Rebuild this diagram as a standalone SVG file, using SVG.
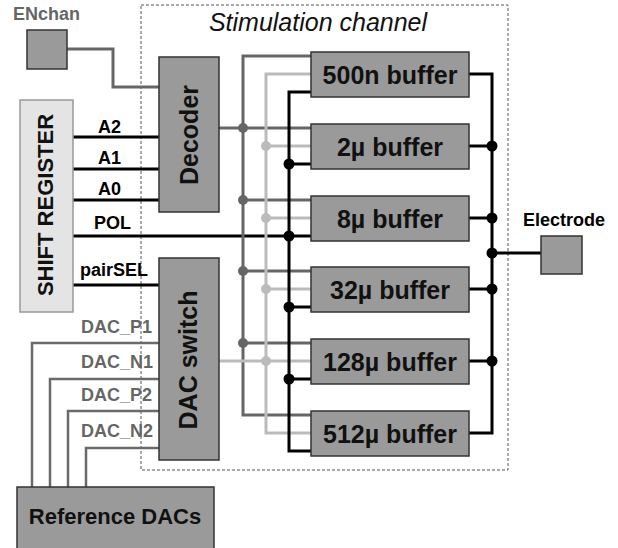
<svg xmlns="http://www.w3.org/2000/svg" width="618" height="548" viewBox="0 0 618 548">
<style>
text{font-family:"Liberation Sans",Arial,Helvetica,sans-serif;font-weight:bold}
.box{fill:#9a9a9a;stroke:#333;stroke-width:1.5}
.sr{fill:#e4e4e4;stroke:#999;stroke-width:1.5}
.dk{fill:none;stroke:#666;stroke-width:3}
.lt{fill:none;stroke:#bbb;stroke-width:3}
.bk{fill:none;stroke:#000;stroke-width:3}
.dac{fill:none;stroke:#6a6a6a;stroke-width:2.5}
.ddot{fill:#666}
.ldot{fill:#bbb}
.bdot{fill:#000}
.big{font-size:25px;fill:#111}
.lbl{font-size:18px;fill:#000}
.glbl{font-size:18px;fill:#666}
</style>
<rect id="channel-frame" x="141" y="5" width="367" height="465" fill="none" stroke="#555" stroke-width="1" stroke-dasharray="3 2"/>
<text x="318" y="31" text-anchor="middle" style="font-weight:normal;font-style:italic;font-size:25px;fill:#111">Stimulation channel</text>
<g id="connectors">
<path class="dk" d="M67,49 H113 V87 H159"/>
<path class="bk" d="M73,137 H159 M73,169 H159 M73,200 H159 M73,285 H159 M73,236 H311"/>
<path class="dk" d="M219,128 H311"/>
<path class="dk" d="M311,56 H243 V415 H311 M243,200 H311 M243,271 H311 M243,343 H311"/>
<path class="lt" d="M311,74 H266 V433 H311 M266,146 H311 M266,218 H311 M266,289 H311"/>
<path class="lt" stroke-width="2.5" d="M219,361 H311"/>
<path class="bk" d="M311,92 H289 V451 H311 M289,164 H311 M289,307 H311 M289,379 H311"/>
<path class="bk" d="M469,74 H492 V433 H469 M469,146 H492 M469,218 H492 M469,289 H492 M469,361 H492 M492,253 H541"/>
<path class="dac" d="M159,343 H32 V487 M159,379 H50 V487 M159,411 H68 V487 M159,448 H86 V487"/>
<circle class="ddot" cx="243" cy="128" r="5"/>
<circle class="ddot" cx="243" cy="200" r="5"/>
<circle class="ddot" cx="243" cy="271" r="5"/>
<circle class="ddot" cx="243" cy="343" r="5"/>
<circle class="ldot" cx="266" cy="146" r="5"/>
<circle class="ldot" cx="266" cy="218" r="5"/>
<circle class="ldot" cx="266" cy="289" r="5"/>
<circle class="ldot" cx="266" cy="361" r="5"/>
<circle class="bdot" cx="289" cy="164" r="5.5"/>
<circle class="bdot" cx="289" cy="236" r="5.5"/>
<circle class="bdot" cx="289" cy="307" r="5.5"/>
<circle class="bdot" cx="289" cy="379" r="5.5"/>
<circle class="bdot" cx="492" cy="146" r="5.5"/>
<circle class="bdot" cx="492" cy="218" r="5.5"/>
<circle class="bdot" cx="492" cy="253" r="5.5"/>
<circle class="bdot" cx="492" cy="289" r="5.5"/>
<circle class="bdot" cx="492" cy="361" r="5.5"/>
<text class="lbl" x="98" y="133">A2</text>
<text class="lbl" x="98" y="164">A1</text>
<text class="lbl" x="98" y="195">A0</text>
<text class="lbl" x="94" y="229">POL</text>
<text class="lbl" x="80" y="276">pairSEL</text>
<text class="glbl" x="81" y="333">DAC_P1</text>
<text class="glbl" x="81" y="368">DAC_N1</text>
<text class="glbl" x="81" y="401">DAC_P2</text>
<text class="glbl" x="81" y="437">DAC_N2</text>
</g>
<g id="enchan">
<text class="glbl" x="13" y="20">ENchan</text>
<rect class="box" x="27" y="30" width="40" height="39"/>
</g>
<g id="shift-register">
<rect class="sr" x="20" y="100" width="53" height="212"/>
<text transform="translate(53,205) rotate(-90)" text-anchor="middle" style="font-size:22px;fill:#111">SHIFT REGISTER</text>
</g>
<g id="decoder">
<rect class="box" x="159" y="57" width="60" height="155"/>
<text class="big" transform="translate(198,135) rotate(-90)" text-anchor="middle">Decoder</text>
</g>
<g id="dac-switch">
<rect class="box" x="159" y="258" width="60" height="202"/>
<text class="big" transform="translate(197,360) rotate(-90)" text-anchor="middle">DAC switch</text>
</g>
<g id="buf-500n">
<rect class="box" x="311" y="52" width="158" height="45"/>
<text class="big" x="390" y="84" text-anchor="middle">500n buffer</text>
</g>
<g id="buf-2u">
<rect class="box" x="311" y="124" width="158" height="45"/>
<text class="big" x="390" y="156" text-anchor="middle">2µ buffer</text>
</g>
<g id="buf-8u">
<rect class="box" x="311" y="196" width="158" height="45"/>
<text class="big" x="390" y="228" text-anchor="middle">8µ buffer</text>
</g>
<g id="buf-32u">
<rect class="box" x="311" y="267" width="158" height="45"/>
<text class="big" x="390" y="299" text-anchor="middle">32µ buffer</text>
</g>
<g id="buf-128u">
<rect class="box" x="311" y="339" width="158" height="45"/>
<text class="big" x="390" y="371" text-anchor="middle">128µ buffer</text>
</g>
<g id="buf-512u">
<rect class="box" x="311" y="411" width="158" height="45"/>
<text class="big" x="390" y="443" text-anchor="middle">512µ buffer</text>
</g>
<g id="electrode">
<text class="lbl" x="523" y="226">Electrode</text>
<rect class="box" x="541" y="236" width="41" height="38"/>
</g>
<g id="reference-dacs">
<rect class="box" x="17" y="487" width="197" height="75"/>
<text x="115" y="524" text-anchor="middle" style="font-size:22px;fill:#111">Reference DACs</text>
</g>
</svg>
